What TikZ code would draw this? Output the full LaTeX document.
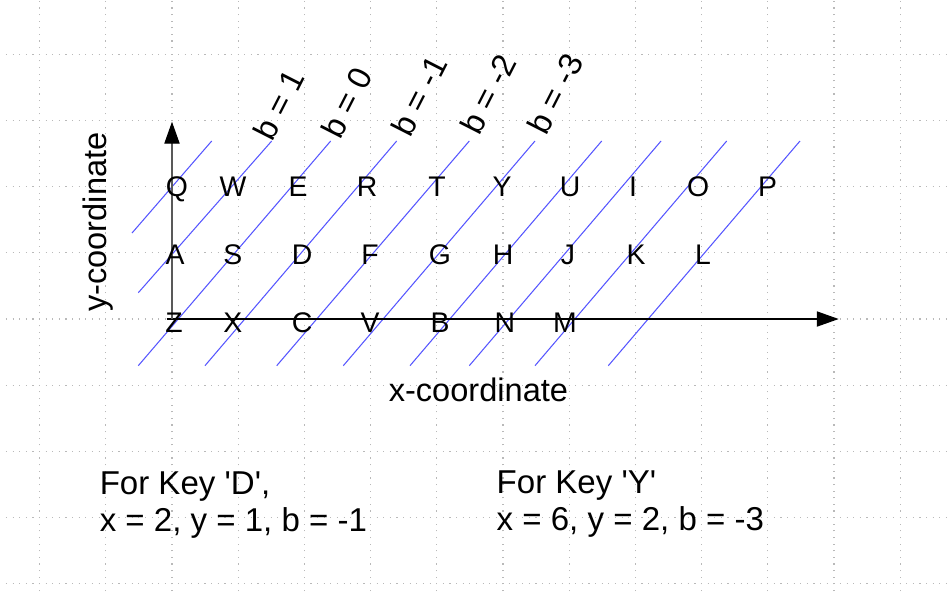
\documentclass[tikz,border=0pt]{standalone}
\usepackage{fontspec}
\setmainfont{Liberation Sans}
\usetikzlibrary{arrows.meta}
\definecolor{bline}{RGB}{85,85,255}
\definecolor{dotgray}{RGB}{185,185,185}

\begin{document}
\begin{tikzpicture}[
gridline/.style={draw=dotgray,line width=0.5pt,dash pattern=on 0.5pt off 2.345pt,dash phase=0.25pt},
bline/.style={draw=bline,line width=0.45pt},
axis/.style={line width=0.5pt,-{Triangle[length=3.3mm,width=2.3mm,color=black]}},
key/.style={anchor=base,inner sep=0pt,font=\fontsize{12.2}{14}\selectfont},
blabel/.style={rotate=63,inner sep=0pt,font=\fontsize{14}{16}\selectfont},
axislabel/.style={inner sep=0pt,font=\fontsize{14}{16}\selectfont},
note/.style={align=left,inner sep=0pt,font=\fontsize{14.2}{15.8}\selectfont}]

\path[fill=white,use as bounding box] (-2.598,-4.154) rectangle (11.767,4.819);
\clip (-2.598,-4.154) rectangle (11.767,4.819);
\draw[gridline] (-3,-5) grid (12,5);

% lines of constant b
\draw[bline] (-0.604,1.299) -- (0.600,2.689);
\draw[bline] (-0.509,0.397) -- (1.506,2.689);
\draw[bline] (-0.509,-0.705) -- (2.397,2.689);
\draw[bline] (0.498,-0.705) -- (3.394,2.689);
\draw[bline] (1.582,-0.705) -- (4.491,2.689);
\draw[bline] (2.588,-0.705) -- (5.483,2.689);
\draw[bline] (3.595,-0.705) -- (6.491,2.689);
\draw[bline] (4.491,-0.705) -- (7.387,2.689);
\draw[bline] (5.483,-0.705) -- (8.379,2.689);
\draw[bline] (6.591,-0.705) -- (9.486,2.689);

% axes
\coordinate (O) at (0,0);
\coordinate (Xend) at (10.07,0);
\coordinate (Yend) at (0,2.98);
\draw[axis] (-0.08,0) -- (Xend);
\draw[axis,draw=black!65] (O) -- (Yend);

% keyboard rows
\draw (0.076,1.858) node[key] (Q) {Q};
\draw (0.921,1.858) node[key] (W) {W};
\draw (1.903,1.858) node[key] (E) {E};
\draw (2.946,1.858) node[key] (R) {R};
\draw (4.003,1.858) node[key] (T) {T};
\draw (4.985,1.858) node[key] (Y) {Y};
\draw (6.012,1.858) node[key] (U) {U};
\draw (6.964,1.858) node[key] (I) {I};
\draw (7.946,1.858) node[key] (Oo) {O};
\draw (8.997,1.858) node[key] (P) {P};

\draw (0.045,0.826) node[key] (A) {A};
\draw (0.921,0.826) node[key] (S) {S};
\draw (1.964,0.826) node[key] (D) {D};
\draw (2.991,0.826) node[key] (F) {F};
\draw (4.048,0.826) node[key] (G) {G};
\draw (5.000,0.826) node[key] (H) {H};
\draw (5.982,0.826) node[key] (J) {J};
\draw (7.009,0.826) node[key] (K) {K};
\draw (8.021,0.826) node[key] (L) {L};

\draw (0.030,-0.207) node[key] (Z) {Z};
\draw (0.921,-0.207) node[key] (X) {X};
\draw (1.964,-0.207) node[key] (C) {C};
\draw (2.991,-0.207) node[key] (V) {V};
\draw (4.048,-0.207) node[key] (B) {B};
\draw (5.030,-0.207) node[key] (N) {N};
\draw (5.937,-0.207) node[key] (M) {M};

% b labels
\draw (1.619,3.233) node[blabel] (b1) {b = 1};
\draw (2.640,3.270) node[blabel] (b0) {b = 0};
\draw (3.731,3.369) node[blabel] (bm1) {b = -1};
\draw (4.778,3.396) node[blabel] (bm2) {b = -2};
\draw (5.785,3.399) node[blabel] (bm3) {b = -3};

% axis labels
\draw (3.268,-1.249) node[axislabel,anchor=base west] (xlab) {x-coordinate};
\draw (-0.986,1.465) node[axislabel,rotate=90,anchor=base] (ylab) {y-coordinate};

% examples
\draw (-1.098,-3.213) node[note,anchor=base west] (exD) {For Key \textquotesingle D\textquotesingle,\\x = 2, y = 1, b = -1};
\draw (4.898,-3.187) node[note,anchor=base west] (exY) {For Key \textquotesingle Y\textquotesingle\\x = 6, y = 2, b = -3};

\end{tikzpicture}
\end{document}
